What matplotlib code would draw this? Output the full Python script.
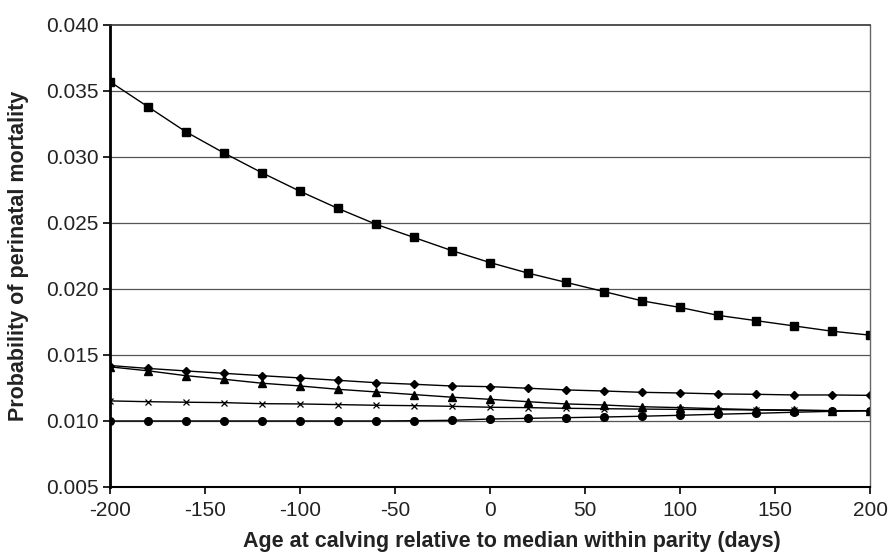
import numpy as np
import matplotlib
matplotlib.use("Agg")
import matplotlib.pyplot as plt

plt.rcParams['font.family'] = ['Liberation Sans', 'DejaVu Sans']
plt.rcParams['axes.unicode_minus'] = False

## data
days = list(range(-200, 201, 20))
squares = [0.0357, 0.0338, 0.0319, 0.0303, 0.0288, 0.0274, 0.0261, 0.0249, 0.0239, 0.0229,
           0.0220, 0.0212, 0.0205, 0.0198, 0.0191, 0.0186, 0.0180, 0.0176, 0.0172, 0.0168, 0.0165]
diamonds = [0.0142, 0.01398, 0.01379, 0.01361, 0.01343, 0.01326, 0.01308, 0.0129, 0.01278, 0.01265,
            0.0126, 0.01248, 0.01235, 0.01227, 0.01217, 0.01212, 0.01205, 0.01202, 0.01197, 0.01197, 0.01194]
triangles = [0.0141, 0.0138, 0.01343, 0.01316, 0.01286, 0.01265, 0.0124, 0.0122, 0.0120, 0.0118,
             0.01164, 0.01146, 0.01129, 0.01121, 0.01108, 0.01101, 0.01093, 0.01086, 0.01083, 0.01078, 0.01078]
crosses = [0.01152, 0.01146, 0.01142, 0.01139, 0.01131, 0.01129, 0.01124, 0.01119, 0.01116, 0.01111,
           0.01104, 0.01101, 0.01096, 0.01093, 0.0109, 0.01088, 0.01086, 0.01083, 0.0108, 0.01078, 0.01078]
circles = [0.0100, 0.0100, 0.0100, 0.0100, 0.0100, 0.0100, 0.0100, 0.0100, 0.01002, 0.01005,
           0.01015, 0.0102, 0.01025, 0.0103, 0.01036, 0.01043, 0.01051, 0.01058, 0.01066, 0.01073, 0.01078]

yticks = [0.005, 0.010, 0.015, 0.020, 0.025, 0.030, 0.035, 0.040]
xticks = [-200, -150, -100, -50, 0, 50, 100, 150, 200]

fig = plt.figure(figsize=(8.9, 5.52), dpi=100)
ax = fig.add_axes([0.1236, 0.1178, 0.854, 0.837])

for yv in yticks[1:-1]:
    ax.axhline(yv, color='#555555', lw=0.9, zorder=1)

ax.plot(days, squares, color='black', lw=1.0, marker='s', ms=5.5, zorder=3)
ax.plot(days, circles, color='black', lw=1.0, marker='o', ms=5.5, zorder=3)
ax.plot(days, crosses, color='black', lw=1.0, marker='x', ms=5, mew=0.9, zorder=3)
ax.plot(days, triangles, color='black', lw=1.0, marker='^', ms=5.5, zorder=3)
ax.plot(days, diamonds, color='black', lw=1.0, marker='D', ms=4, zorder=3)

ax.set_xlim(-200, 200)
ax.set_ylim(0.005, 0.040)
ax.set_xticks(xticks)
ax.set_yticks(yticks)
ax.set_yticklabels(['%.3f' % v for v in yticks])
ax.tick_params(axis='both', labelsize=15, direction='out', length=5, width=1.2, color='black',
               labelcolor='#222222')
ax.tick_params(axis='x', pad=5)
ax.tick_params(axis='y', pad=3)

ax.spines['left'].set_linewidth(2)
ax.spines['bottom'].set_linewidth(1.5)
ax.spines['top'].set_linewidth(1.2)
ax.spines['top'].set_color('#333333')
ax.spines['right'].set_linewidth(1)
ax.spines['right'].set_color('#666666')
for s in ax.spines.values():
    s.set_zorder(4)

ax.set_xlabel('Age at calving relative to median within parity (days)', fontsize=15.5,
              fontweight='bold', color='#222222')
ax.set_ylabel('Probability of perinatal mortality', fontsize=15.5, fontweight='bold',
              color='#222222')
ax.xaxis.set_label_coords(0.529, -0.095)
ax.yaxis.set_label_coords(-0.107, 0.5)

fig.savefig('out.png', dpi=100)
